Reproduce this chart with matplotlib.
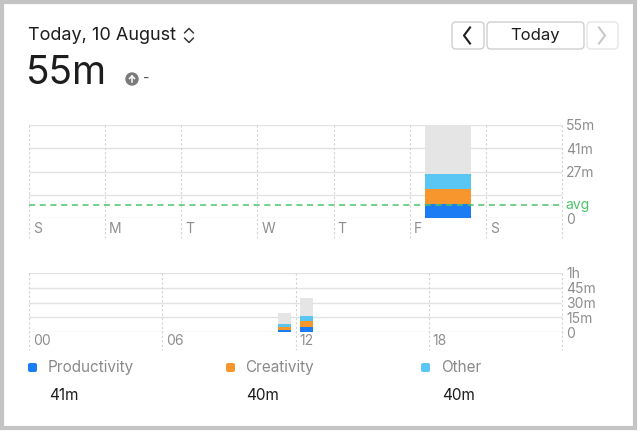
import matplotlib
matplotlib.use("Agg")
import matplotlib.pyplot as plt
from matplotlib.patches import FancyBboxPatch, Rectangle, Circle

plt.rcParams['font.family'] = ['Inter', 'DejaVu Sans']

# ---- data ----
days = ['S', 'M', 'T', 'W', 'T', 'F', 'S']
day_productivity = [0, 0, 0, 0, 0, 8, 0]
day_creativity = [0, 0, 0, 0, 0, 9, 0]
day_other = [0, 0, 0, 0, 0, 9, 0]
day_rest = [0, 0, 0, 0, 0, 29, 0]
avg_minutes = 7.9
day_ticks = [0, 13.75, 27.5, 41.25, 55]
day_tick_labels = ['0', '', '27m', '41m', '55m']

hours = [11, 12]
hour_productivity = [2.5, 5.5]
hour_creativity = [3, 5.5]
hour_other = [3, 5.5]
hour_rest = [11, 18.5]
hour_ticks = [0, 15, 30, 45, 60]
hour_tick_labels = ['0', '15m', '30m', '45m', '1h']
hour_labels = ['00', '06', '12', '18']

categories = ['Productivity', 'Creativity', 'Other']
category_totals = ['41m', '40m', '40m']

C_PROD = '#1c7cf4'
C_CREA = '#f7962d'
C_OTHER = '#5ac6f4'
C_REST = '#e5e5e5'
GRID = '#e2e2e2'
VGRID = '#d2d2d2'
LABEL = '#8e8e8e'

W, H = 640, 432
fig = plt.figure(figsize=(6.4, 4.32), dpi=100)
fig.patch.set_facecolor('white')


def box(x0, y0, x1, y1):
    return [x0 / W, 1 - y1 / H, (x1 - x0) / W, (y1 - y0) / H]


# background overlay in pixel coords
bg = fig.add_axes([0, 0, 1, 1])
bg.set_xlim(0, W)
bg.set_ylim(H, 0)
bg.axis('off')
bg.add_patch(Rectangle((2, 2), 633, 426, fill=False, edgecolor='#c4c4c4', lw=3))

# header
bg.text(28, 36, 'Today, 10 August', fontsize=13, color='#1d1d1f', va='center', ha='left')
bg.plot([184.5, 189, 193.5], [33, 28.5, 33], color='#3a3a3c', lw=1.1, solid_capstyle='round')
bg.plot([184.5, 189, 193.5], [38, 42.5, 38], color='#3a3a3c', lw=1.1, solid_capstyle='round')
bg.text(26, 73, '55m', fontsize=28, color='#1d1d1f', va='center', ha='left')
bg.add_patch(Circle((132, 79), 6, color='#7a7a7a'))
bg.plot([132, 132], [82, 76], color='white', lw=1.1)
bg.plot([129.5, 132, 134.5], [78.5, 76, 78.5], color='white', lw=1.1)
bg.text(143, 79, '-', fontsize=10, color='#555555', va='center', ha='left')

# nav buttons
for (x0, x1, ec) in [(452, 484, '#cfcfcf'), (487, 584, '#cfcfcf'), (587, 618, '#e6e6e6')]:
    bg.add_patch(FancyBboxPatch((x0, 22), x1 - x0, 27, boxstyle='round,pad=0,rounding_size=4',
                                facecolor='white', edgecolor=ec, lw=1))
bg.plot([470, 464, 470], [27.5, 35.5, 43.5], color='#1d1d1f', lw=1.5)
bg.plot([599, 605, 599], [27.5, 35.5, 43.5], color='#c8c8c8', lw=1.5)
bg.text(535, 35.5, 'Today', fontsize=12, color='#1d1d1f', va='center', ha='center')

# legend
sq_x = [28, 226, 421]
txt_x = [48, 245, 441]
for sx, tx, name, tot, col in zip(sq_x, txt_x, categories, category_totals, [C_PROD, C_CREA, C_OTHER]):
    bg.add_patch(FancyBboxPatch((sx, 363), 9, 9, boxstyle='round,pad=0,rounding_size=2',
                                facecolor=col, edgecolor='none'))
    bg.text(tx, 367.5, name, fontsize=11, color='#8a8a8a', va='center', ha='left')
    bg.text(tx + 1, 396, tot, fontsize=11, color='#1d1d1f', va='center', ha='left')

# ---- weekly chart ----
ax = fig.add_axes(box(29, 125, 562, 218))
ax.set_facecolor('none')
ax.set_xlim(0, 7)
ax.set_ylim(0, 55)
x = [i + 0.5 for i in range(len(days))]
b = [0] * len(days)
for vals, col in [(day_productivity, C_PROD), (day_creativity, C_CREA),
                  (day_other, C_OTHER), (day_rest, C_REST)]:
    ax.bar(x, vals, bottom=b, width=0.6, color=col, zorder=3)
    b = [p + q for p, q in zip(b, vals)]
for t in day_ticks:
    ax.axhline(t, color=GRID, lw=1, zorder=1)
for i in range(len(days) + 1):
    ax.plot([i, i], [55, -12], color=VGRID, lw=0.8, dashes=(2, 2), clip_on=False, zorder=1)
for i, d in enumerate(days):
    ax.text(i + 0.05, -6.5, d, fontsize=10, color=LABEL, va='center', ha='left')
ax.axhline(avg_minutes, color='#4cc46a', lw=1.1, dashes=(4, 3), zorder=4)
ax.yaxis.tick_right()
ax.set_yticks(day_ticks)
ax.set_yticklabels(day_tick_labels, fontsize=10, color=LABEL)
ax.tick_params(axis='y', length=0, pad=3)
ax.set_xticks([])
ax.text(7.04, avg_minutes, 'avg', fontsize=10, color='#4cc46a', va='center', ha='left')
for s in ax.spines.values():
    s.set_visible(False)

# ---- hourly chart ----
ax2 = fig.add_axes(box(29, 273, 562, 332))
ax2.set_facecolor('none')
ax2.set_xlim(0, 24)
ax2.set_ylim(0, 60)
hx = [h + 0.5 for h in hours]
b = [0] * len(hours)
for vals, col in [(hour_productivity, C_PROD), (hour_creativity, C_CREA),
                  (hour_other, C_OTHER), (hour_rest, C_REST)]:
    ax2.bar(hx, vals, bottom=b, width=0.55, color=col, zorder=3)
    b = [p + q for p, q in zip(b, vals)]
for t in hour_ticks:
    ax2.axhline(t, color=GRID, lw=1, zorder=1)
for h in range(0, 25, 6):
    ax2.plot([h, h], [60, -18], color=VGRID, lw=0.8, dashes=(2, 2), clip_on=False, zorder=1)
for i, lab in enumerate(hour_labels):
    ax2.text(i * 6 + 0.18, -9, lab, fontsize=10, color=LABEL, va='center', ha='left')
ax2.yaxis.tick_right()
ax2.set_yticks(hour_ticks)
ax2.set_yticklabels(hour_tick_labels, fontsize=10, color=LABEL)
ax2.tick_params(axis='y', length=0, pad=3)
ax2.set_xticks([])
for s in ax2.spines.values():
    s.set_visible(False)

fig.savefig('out.png', dpi=100)
